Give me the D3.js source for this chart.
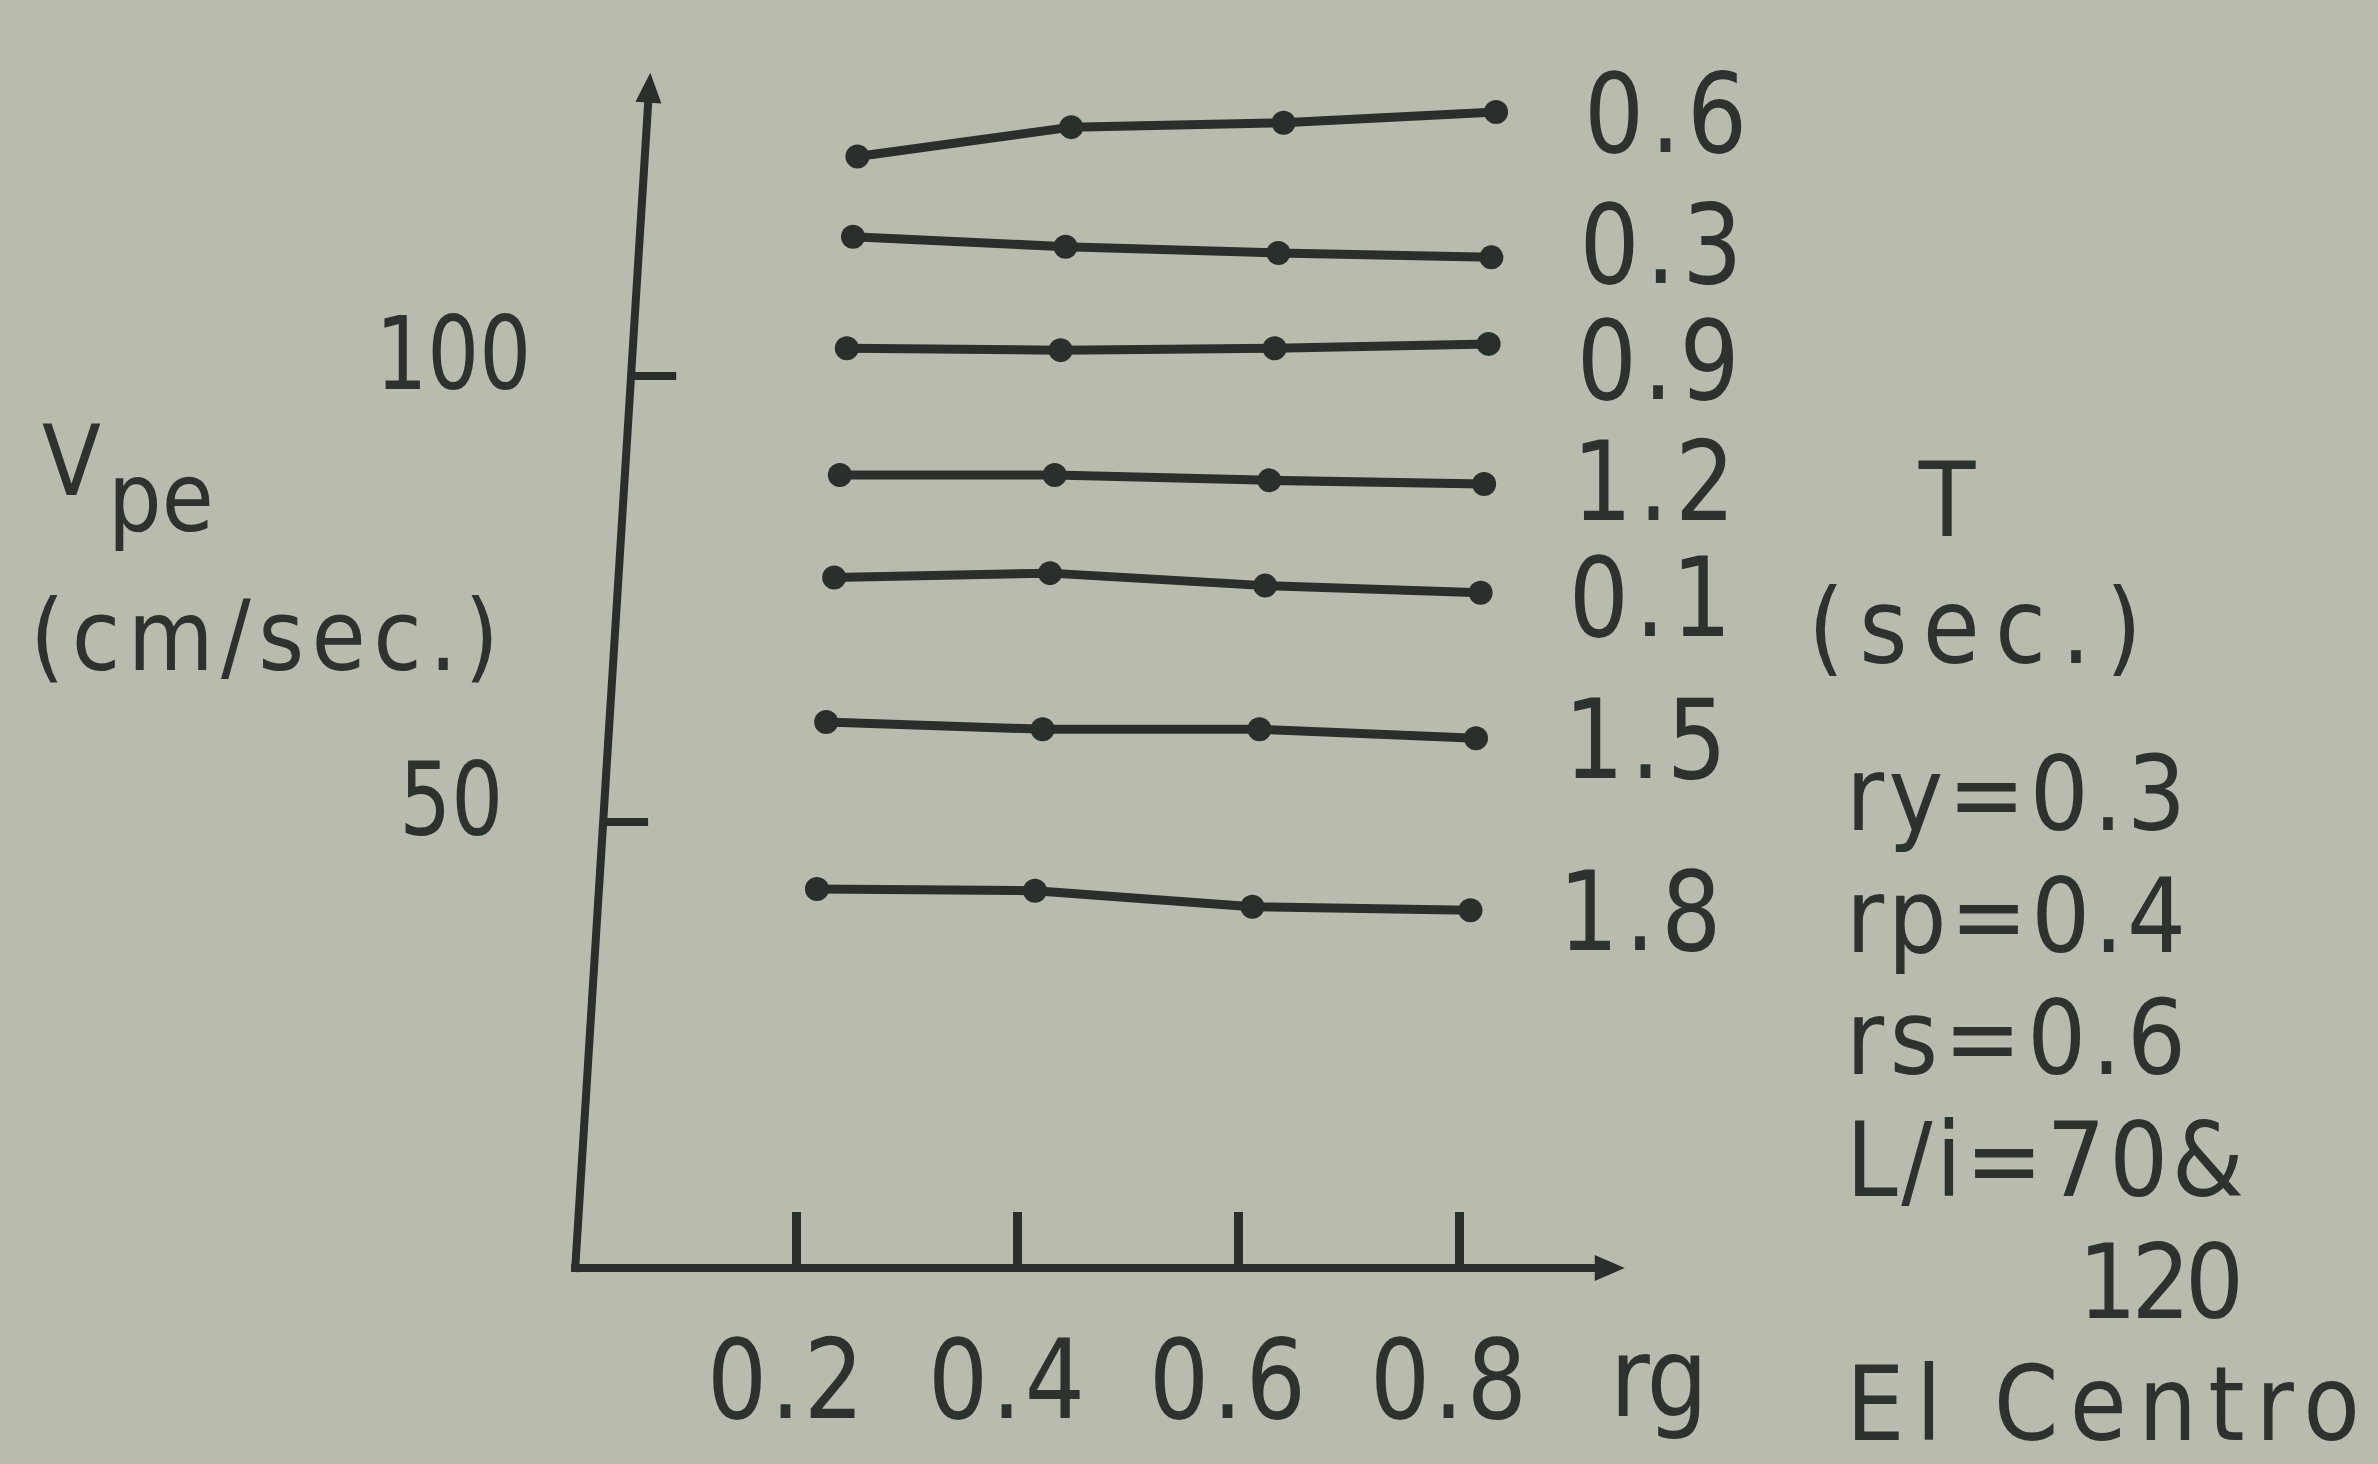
<!DOCTYPE html>
<html>
<head>
<meta charset="utf-8">
<script src="https://cdn.jsdelivr.net/npm/d3@7"></script>
<style>
  html, body { margin: 0; padding: 0; background: #b8bbae; }
  svg { display: block; }
  text { font-family: "DejaVu Sans", sans-serif; fill: #2d322f; }
</style>
</head>
<body>
<svg id="chart"></svg>
<script>
// rg along the x axis
var rgValues = [0.2, 0.4, 0.6, 0.8];
// period T (sec.) of each curve, top to bottom
var periods = ["0.6", "0.3", "0.9", "1.2", "0.1", "1.5", "1.8"];
// Vpe (cm/sec.) read at each rg
var vpeT06 = [124.6, 127.9, 128.4, 129.6];
var vpeT03 = [115.6, 114.5, 113.8, 113.3];
var vpeT09 = [103.1, 102.9, 103.1, 103.6];
var vpeT12 = [88.9, 88.9, 88.3, 87.9];
var vpeT01 = [77.4, 77.9, 76.5, 75.7];
var vpeT15 = [61.2, 60.4, 60.4, 59.4];
var vpeT18 = [42.5, 42.3, 40.5, 40.1];
var yTicks = [50, 100];
var notes = ["ry=0.3", "rp=0.4", "rs=0.6", "L/i=70&", "    120", "El Centro"];

var width = 2378;
var height = 1464;
var ink = "#2a2f2c";

var svg = d3.select("#chart").attr("width", width).attr("height", height);
svg.append("rect").attr("width", width).attr("height", height).attr("fill", "#b8bbae");

var series = periods.map((p, i) => ({
  T: p,
  values: [vpeT06, vpeT03, vpeT09, vpeT12, vpeT01, vpeT15, vpeT18][i],
}));

var xScale = d3.scaleLinear().domain([0, 0.8]).range([575, 1459]);
var yScale = d3.scaleLinear().domain([0, 100]).range([1268, 376]);
var xEnd = 0.95;
var yEnd = 134;

/* the page was photographed at a slant: lines lean right going up,
   a bit more on the left side than on the right */
var tilt = (x, y) => {
  var k = 0.063 - 0.000035 * (x - xScale(0));
  return x + k * (yScale(0) - y);
};

/* typewriter look: narrow glyphs, spread so each char takes ~adv px */
var typed = (sel, str, size, adv, sx) => {
  sel.style("font-size", size + "px").text(str);
  if (adv) {
    sel.attr("textLength", (str.length * adv - 8) / sx).attr("lengthAdjust", "spacing");
  }
  return sel;
};

var putText = (g, str, x, y, size, adv, sx, anchor) => {
  var t = g
    .append("text")
    .attr("transform", "translate(" + x + "," + y + ") scale(" + sx + ",1)")
    .attr("text-anchor", anchor || "start");
  return typed(t, str, size, adv, sx);
};

var arrow = (g, x1, y1, x2, y2) => {
  var len = Math.hypot(x2 - x1, y2 - y1);
  var ux = (x2 - x1) / len, uy = (y2 - y1) / len;
  var bx = x2 - ux * 30, by = y2 - uy * 30;
  g.append("path")
    .attr("d", "M" + x2 + "," + y2 +
      "L" + (bx - uy * 13) + "," + (by + ux * 13) +
      "L" + (bx + uy * 13) + "," + (by - ux * 13) + "Z")
    .attr("fill", ink);
};

var plot = svg.append("g");

// x axis
var xAxis = d3.axisBottom(xScale)
  .tickValues(rgValues)
  .tickSizeInner(-56)
  .tickSizeOuter(0)
  .tickPadding(150)
  .tickFormat(d3.format(".1f"));

var gx = plot.append("g")
  .attr("transform", "translate(0," + yScale(0) + ")")
  .call(xAxis);
gx.select(".domain").remove();
gx.selectAll(".tick line").attr("stroke", ink).attr("stroke-width", 9);
gx.selectAll(".tick text")
  .attr("fill", null)
  .attr("font-family", null)
  .attr("font-size", null)
  .attr("dy", "0")
  .attr("transform", "translate(-11,0) scale(0.86,1)")
  .each(function (d) {
    typed(d3.select(this), d3.format(".1f")(d), 110, 55, 0.86);
  });

plot.append("line")
  .attr("x1", xScale(0) - 4).attr("y1", yScale(0))
  .attr("x2", xScale(xEnd) - 20).attr("y2", yScale(0))
  .attr("stroke", ink).attr("stroke-width", 8);
arrow(plot, xScale(0), yScale(0), xScale(xEnd), yScale(0));

// y axis
var yAxis = d3.axisLeft(yScale)
  .tickValues(yTicks)
  .tickSizeInner(-45)
  .tickSizeOuter(0)
  .tickPadding(100)
  .tickFormat(d3.format("d"));

var gy = plot.append("g").call(yAxis);
gy.select(".domain").remove();
gy.selectAll(".tick")
  .attr("transform", (d) => "translate(" + tilt(xScale(0), yScale(d)) + "," + yScale(d) + ")");
gy.selectAll(".tick line").attr("stroke", ink).attr("stroke-width", 8);
gy.selectAll(".tick text")
  .attr("fill", null)
  .attr("font-family", null)
  .attr("font-size", null)
  .attr("x", null)
  .attr("dy", "0.13em")
  .attr("transform", "translate(-100,0) scale(0.8,1)")
  .each(function (d) {
    typed(d3.select(this), String(d), 102, 0, 0.8);
  });

var yTop = [tilt(xScale(0), yScale(yEnd)), yScale(yEnd)];
plot.append("line")
  .attr("x1", xScale(0)).attr("y1", yScale(0) + 4)
  .attr("x2", yTop[0] - 1.5).attr("y2", yTop[1] + 20)
  .attr("stroke", ink).attr("stroke-width", 8);
arrow(plot, xScale(0), yScale(0), yTop[0], yTop[1]);

// curves
var line = d3.line()
  .x((d, i) => tilt(xScale(rgValues[i]), yScale(d)))
  .y((d) => yScale(d));

var curves = plot.selectAll(".curve")
  .data(series)
  .enter()
  .append("g")
  .attr("class", "curve");

curves.append("path")
  .attr("d", (s) => line(s.values))
  .attr("fill", "none")
  .attr("stroke", ink)
  .attr("stroke-width", 9);

curves.selectAll("circle")
  .data((s) => s.values)
  .enter()
  .append("circle")
  .attr("cx", (d, i) => tilt(xScale(rgValues[i]), yScale(d)))
  .attr("cy", (d) => yScale(d))
  .attr("r", 12)
  .attr("fill", ink);

// T labels at the right end, pushed apart where they would collide
var labelY = series.map((s) => yScale(s.values[s.values.length - 1]));
for (var it = 0; it < 30; it++) {
  for (var i = 1; i < labelY.length; i++) {
    var gap = labelY[i] - labelY[i - 1];
    if (gap < 116) {
      var push = (116 - gap) / 2;
      labelY[i - 1] -= push;
      labelY[i] += push;
    }
  }
}
series.forEach((s, i) => {
  var v = s.values[s.values.length - 1];
  var endX = tilt(xScale(rgValues[rgValues.length - 1]), yScale(v));
  putText(svg, s.T, endX + 88, labelY[i] + 40, 110, 57, 0.86);
});

// axis titles
var vLabel = svg.append("text")
  .attr("transform", "translate(42,495) scale(0.88,1)")
  .style("font-size", "98px")
  .text("V");
vLabel.append("tspan")
  .attr("dx", 8).attr("dy", 36)
  .style("font-size", "96px")
  .text("pe");
putText(svg, "(cm/sec.)", 30, 670, 98, 53, 0.9);
putText(svg, "rg", 1610, 1416, 110, 53, 0.88);
putText(svg, "T", 1947, 536, 103, 57, 0.9, "middle");
putText(svg, "(sec.)", 1808, 663, 103, 57, 0.9);

notes.forEach((n, i) => {
  var indent = n.length - n.trimStart().length;
  putText(svg, n.trim(), 1846 + indent * 58, 830 + i * 122, 103, 58, 0.9);
});
</script>
</body>
</html>
